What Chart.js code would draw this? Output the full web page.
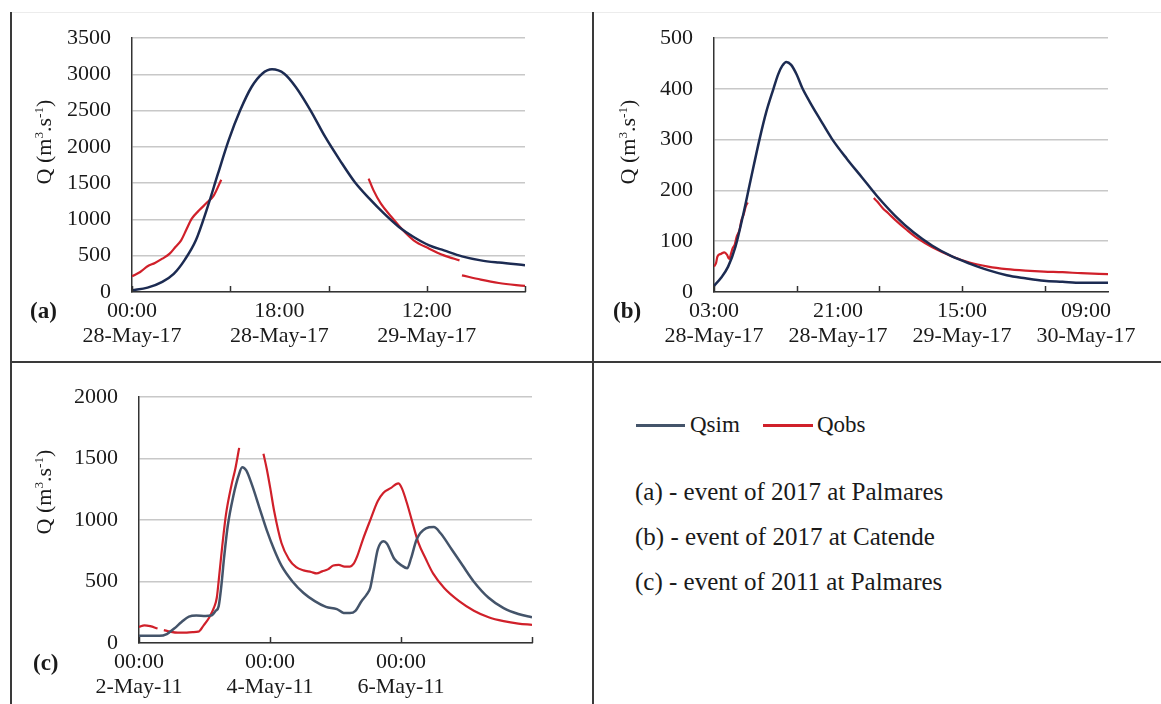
<!DOCTYPE html>
<html lang="en">
<head>
    <meta charset="UTF-8">
    <title>Qsim vs Qobs</title>
    <script src="https://cdn.jsdelivr.net/npm/chart.js"></script>
    <style>
        body {
            margin: 0;
            width: 1161px;
            height: 704px;
            position: relative;
            overflow: hidden;
            background: #fff;
            font-family: 'Liberation Serif', 'Times New Roman', serif;
            color: #1a1a1a;
        }
        canvas, .abs { position: absolute; }
        .rule { position: absolute; background: #3a3a3a; }
        .ytitle {
            position: absolute;
            width: 220px;
            height: 26px;
            line-height: 26px;
            font-size: 22px;
            text-align: center;
            white-space: nowrap;
            transform: rotate(-90deg);
        }
        .ytitle sup { font-size: 0.6em; vertical-align: 0.6em; line-height: 0; }
        .panel { font-weight: bold; font-size: 23px; line-height: 24px; }
        .swatch { position: absolute; height: 3px; }
        .leg { font-size: 23px; line-height: 26px; }
        .desc { font-size: 25px; line-height: 28px; white-space: nowrap; }
    </style>
</head>
<body>
    <!-- table rules -->
    <div class="rule" style="left:10px;top:12px;width:1151px;height:1px;background:#ececec"></div>
    <div class="rule" style="left:10px;top:12px;width:2px;height:692px"></div>
    <div class="rule" style="left:592px;top:12px;width:2px;height:692px"></div>
    <div class="rule" style="left:10px;top:361px;width:1151px;height:2px"></div>

    <canvas id="chartA" width="580" height="361" style="left:11px;top:0"></canvas>
    <canvas id="chartB" width="567" height="361" style="left:594px;top:0"></canvas>
    <canvas id="chartC" width="580" height="341" style="left:11px;top:363px"></canvas>

    <div class="ytitle" style="left:-66px;top:129px">Q (m<sup>3</sup>.s<sup>-1</sup>)</div>
    <div class="ytitle" style="left:518px;top:129px">Q (m<sup>3</sup>.s<sup>-1</sup>)</div>
    <div class="ytitle" style="left:-66px;top:479px">Q (m<sup>3</sup>.s<sup>-1</sup>)</div>

    <div class="abs panel" style="left:30px;top:299px">(a)</div>
    <div class="abs panel" style="left:613px;top:299px">(b)</div>
    <div class="abs panel" style="left:33px;top:651px">(c)</div>

    <div class="swatch" style="left:636px;top:424px;width:49px;background:#44546a"></div>
    <div class="abs leg" style="left:690px;top:412px">Qsim</div>
    <div class="swatch" style="left:763px;top:424px;width:50px;background:#d0202a"></div>
    <div class="abs leg" style="left:817px;top:412px">Qobs</div>

    <div class="abs desc" style="left:635px;top:478px">(a) - event of 2017 at Palmares</div>
    <div class="abs desc" style="left:635px;top:523px">(b) - event of 2017 at Catende</div>
    <div class="abs desc" style="left:635px;top:568px">(c) - event of 2011 at Palmares</div>

    <script>
        // (a) 2017 event at Palmares, hours from 00:00 28-May-17
        const aSimX = [0, 1.9, 3.7, 5.1, 6.4, 7.8, 9.1, 10.5, 11.8, 13.2, 14.6, 15.9, 17.1, 18.6, 20.0, 21.8, 23.6, 25.4, 27.2, 29.0, 30.8, 32.6, 34.4, 36.3, 38.1, 40.3, 42.6, 44.8, 48];
        const aSimY = [23, 60, 140, 250, 436, 712, 1125, 1630, 2090, 2500, 2825, 3008, 3068, 3008, 2825, 2503, 2136, 1814, 1516, 1286, 1079, 896, 758, 643, 574, 491, 436, 405, 370];
        const aObsX = [0, 1, 1.9, 2.8, 3.7, 4.6, 5.3, 6.0, 6.6, 7.3, 8.2, 9.1, 10.0, 10.9, 20, 28.9, 29.5, 30.4, 31.7, 33.1, 34.4, 36.3, 38.1, 40.0, 40.15, 40.3, 42.6, 44.8, 48];
        const aObsY = [216, 276, 354, 400, 459, 528, 620, 712, 850, 1010, 1125, 1226, 1332, 1548, null, 1562, 1400, 1217, 1033, 850, 712, 597, 505, 436, null, 230, 170, 124, 83];
        const aLabelAt = [0, 18, 36];
        const aLabelTime = ['00:00', '18:00', '12:00'];
        const aLabelDate = ['28-May-17', '28-May-17', '29-May-17'];
        const aTickMarks = [0, 12, 24, 36, 48];

        // (b) 2017 event at Catende, hours from 03:00 28-May-17
        const bSimX = [0, 0.97, 2.05, 3.13, 4.2, 5.28, 6.6, 7.6, 8.63, 9.3, 9.9, 10.5, 11.2, 12.0, 12.8, 14.0, 15.4, 17.1, 19.3, 21.46, 23.6, 26.3, 29.0, 31.7, 34.4, 37.1, 39.8, 42.5, 45.2, 47.9, 50.6, 53.3, 57.2];
        const bSimY = [12, 27, 50, 90, 150, 218, 300, 355, 400, 428, 445, 453, 447, 428, 402, 372, 340, 302, 262, 226, 190, 150, 117, 91, 71, 56, 43, 33, 27, 22, 20, 18, 18];
        const bObsX = [0, 0.3, 0.5, 1.0, 1.5, 1.9, 2.2, 2.5, 2.7, 3.0, 3.3, 3.7, 4.0, 4.3, 4.6, 4.9, 14, 23.2, 23.7, 24.5, 25.3, 26.3, 28.0, 29.5, 31.7, 34.4, 37.1, 39.8, 42.5, 45.2, 47.9, 50.6, 53.3, 57.2];
        const bObsY = [50, 57, 70, 75, 78, 73, 65, 77, 86, 93, 109, 122, 142, 152, 168, 176, null, 185, 178, 165, 155, 142, 122, 106, 88, 71, 58, 50, 45, 42, 40, 39, 37, 35];
        const bLabelAt = [0, 18, 36, 54];
        const bLabelTime = ['03:00', '21:00', '15:00', '09:00'];
        const bLabelDate = ['28-May-17', '28-May-17', '29-May-17', '30-May-17'];
        const bTickMarks = [0, 12, 24, 36, 48];

        // (c) 2011 event at Palmares, hours from 00:00 2-May-11
        const cSimX = [0, 3.4, 7.5, 10.2, 12.9, 15.6, 18.3, 21.0, 24.4, 26.4, 28.1, 29.2, 30.1, 31.2, 32.5, 34.6, 36.6, 37.8, 39.3, 41.4, 44.1, 46.8, 49.5, 52.2, 56.3, 60.3, 64.4, 68.5, 72.5, 75.0, 77.3, 79.3, 81.4, 83.4, 84.7, 86.1, 87.5, 89.6, 90.8, 93.6, 96.3, 98.3, 99.7, 101.7, 105.1, 108.0, 110.5, 114.6, 118.6, 122.7, 128.1, 133.6, 139.0, 144];
        const cSimY = [58, 58, 58, 73, 118, 171, 215, 223, 220, 223, 262, 300, 450, 700, 950, 1200, 1370, 1430, 1404, 1286, 1102, 919, 761, 630, 499, 407, 341, 294, 276, 245, 244, 262, 336, 394, 446, 604, 761, 827, 810, 683, 630, 609, 690, 840, 932, 943, 893, 761, 630, 499, 368, 284, 236, 210];
        const cObsX = [0, 2.0, 4.1, 6.8, 8, 9.1, 11.5, 14.2, 16.9, 19.7, 21.7, 23.7, 25.8, 27.5, 28.5, 29.4, 30.5, 31.9, 33.9, 35.3, 36.7, 40, 45.6, 46.8, 48.1, 49.5, 52.2, 54.9, 57.6, 60.3, 63.1, 65.1, 67.1, 69.2, 71.2, 73.2, 75.3, 77.3, 78.6, 80.0, 82.0, 84.7, 87.5, 89.5, 92.2, 95.0, 96.3, 98.3, 100.3, 102.4, 105.1, 107.8, 111.9, 117.3, 122.7, 128.1, 133.6, 139.0, 144];
        const cObsY = [131, 144, 137, 118, null, 105, 92, 84, 84, 89, 92, 144, 210, 289, 368, 551, 788, 1050, 1286, 1418, 1588, null, 1540, 1418, 1260, 1076, 814, 683, 617, 591, 578, 566, 583, 599, 630, 635, 622, 622, 643, 709, 840, 998, 1155, 1221, 1260, 1299, 1260, 1129, 971, 814, 683, 564, 446, 341, 263, 210, 178, 158, 148];
        const cLabelAt = [0, 48, 96];
        const cLabelTime = ['00:00', '00:00', '00:00'];
        const cLabelDate = ['2-May-11', '4-May-11', '6-May-11'];
        const cTickMarks = [0, 48, 96, 144];

        Chart.defaults.font.family = "'Liberation Serif', 'Times New Roman', serif";
        Chart.defaults.color = '#1a1a1a';

        // short tick marks pointing up into the plot, like the Excel original
        const insideTicks = {
            id: 'insideTicks',
            afterDatasetsDraw(chart, args, opts) {
                const x = chart.scales.x, ctx = chart.ctx;
                const bottom = chart.chartArea.bottom;
                ctx.save();
                ctx.strokeStyle = '#333';
                ctx.lineWidth = 1.5;
                opts.values.forEach(v => {
                    const px = Math.round(x.getPixelForValue(v)) + 0.5;
                    ctx.beginPath();
                    ctx.moveTo(px, bottom);
                    ctx.lineTo(px, bottom - 6);
                    ctx.stroke();
                });
                ctx.restore();
            }
        };

        function pts(xs, ys) {
            return xs.map((x, i) => ({ x: x, y: ys[i] }));
        }

        function makeChart(id, o) {
            new Chart(document.getElementById(id), {
                type: 'line',
                data: {
                    datasets: [{
                        label: 'Qsim',
                        data: pts(o.simX, o.simY),
                        borderColor: o.simColor,
                        borderWidth: 2.5,
                        pointRadius: 0,
                        cubicInterpolationMode: 'monotone'
                    }, {
                        label: 'Qobs',
                        data: pts(o.obsX, o.obsY),
                        borderColor: '#d0202a',
                        borderWidth: 2.2,
                        pointRadius: 0,
                        spanGaps: false,
                        cubicInterpolationMode: 'monotone'
                    }]
                },
                options: {
                    responsive: false,
                    animation: false,
                    devicePixelRatio: 1,
                    layout: { padding: { left: 0, top: o.top, right: o.right, bottom: 0 } },
                    plugins: {
                        legend: { display: false },
                        tooltip: { enabled: false },
                        insideTicks: { values: o.tickMarks }
                    },
                    scales: {
                        x: {
                            type: 'linear',
                            min: 0,
                            max: o.xMax,
                            afterBuildTicks: (s) => { s.ticks = o.labelAt.map(v => ({ value: v })); },
                            afterFit: (s) => { s.height = o.xHeight; },
                            grid: { display: false, drawTicks: false },
                            border: { display: true, color: '#333', width: 1.5 },
                            ticks: {
                                padding: 7,
                                maxRotation: 0,
                                autoSkip: false,
                                font: { size: 22, lineHeight: 1.14 },
                                callback: (v) => {
                                    const i = o.labelAt.indexOf(v);
                                    return i < 0 ? '' : [o.labelTime[i], o.labelDate[i]];
                                }
                            }
                        },
                        y: {
                            min: 0,
                            max: o.yMax,
                            afterFit: (s) => { s.width = o.yWidth; },
                            grid: { color: '#c8c8c8', lineWidth: 1.5, drawTicks: false },
                            border: { display: true, color: '#333', width: 1.5 },
                            ticks: {
                                stepSize: o.yStep,
                                padding: 21,
                                font: { size: 22 },
                                callback: (v) => String(v)
                            }
                        }
                    }
                },
                plugins: [insideTicks]
            });
        }

        makeChart('chartA', {
            simX: aSimX, simY: aSimY, obsX: aObsX, obsY: aObsY, simColor: '#1c2b52',
            labelAt: aLabelAt, labelTime: aLabelTime, labelDate: aLabelDate, tickMarks: aTickMarks,
            xMax: 48, yMax: 3500, yStep: 500, top: 38, right: 66, yWidth: 121, xHeight: 69
        });
        makeChart('chartB', {
            simX: bSimX, simY: bSimY, obsX: bObsX, obsY: bObsY, simColor: '#1c2b52',
            labelAt: bLabelAt, labelTime: bLabelTime, labelDate: bLabelDate, tickMarks: bTickMarks,
            xMax: 57.2, yMax: 500, yStep: 100, top: 38, right: 53, yWidth: 120, xHeight: 69
        });
        makeChart('chartC', {
            simX: cSimX, simY: cSimY, obsX: cObsX, obsY: cObsY, simColor: '#44546a',
            labelAt: cLabelAt, labelTime: cLabelTime, labelDate: cLabelDate, tickMarks: cTickMarks,
            xMax: 144, yMax: 2000, yStep: 500, top: 26, right: 59, yWidth: 128, xHeight: 61
        });
    </script>
</body>
</html>
